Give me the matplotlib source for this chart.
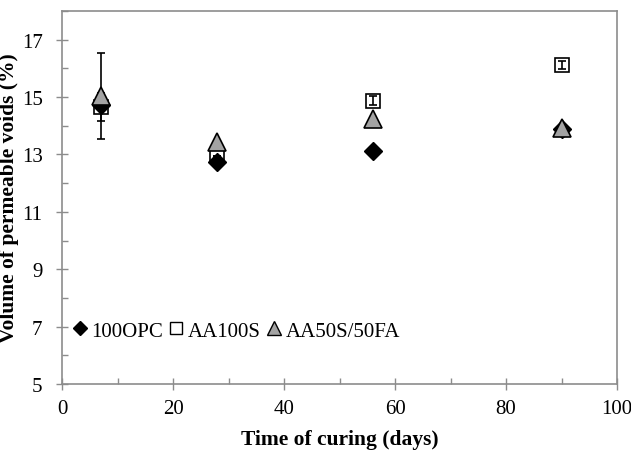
import matplotlib.pyplot as plt
from matplotlib.lines import Line2D
from matplotlib.ticker import MultipleLocator

plt.rcParams['font.family'] = ['Liberation Serif', 'DejaVu Serif']

days = [7, 28, 56, 90]
opc = [14.72, 12.75, 13.12, 13.88]
aa100s = [14.65, 12.95, 14.88, 16.12]
aa100s_err = [0.5, 0.0, 0.15, 0.15]
aa50 = [15.05, 13.45, 14.25, 13.92]
aa50_err = [1.5, 0.0, 0.0, 0.0]

fig = plt.figure(figsize=(6.31, 4.60), dpi=100)
ax = fig.add_axes([62 / 631, 75 / 460, 555 / 631, 373 / 460])

sq = dict(marker='s', ls='none', ms=10.5, mfc='white', mec='black', mew=1.2)
dia = dict(marker='D', ls='none', ms=9.5, mfc='black', mec='black', mew=1.0)
tri = dict(marker='^', ls='none', ms=12.5, mfc='#a3a3a3', mec='black', mew=1.2)

# square error bars sit on top of the squares, triangle bars behind the triangles
ax.plot(days, aa100s, zorder=3, **sq)
ax.errorbar(days, aa100s, yerr=aa100s_err, fmt='none', ecolor='black',
            elinewidth=1.2, capsize=3.2, capthick=1.2, zorder=3.5)
ax.plot(days, opc, zorder=4, **dia)
ax.errorbar(days, aa50, yerr=aa50_err, fmt='none', ecolor='black',
            elinewidth=1.2, capsize=3.2, capthick=1.2, zorder=2)
ax.plot(days, aa50, zorder=5, **tri)

ax.set_xlim(0, 100)
ax.set_ylim(5, 18)
ax.xaxis.set_major_locator(MultipleLocator(20))
ax.xaxis.set_minor_locator(MultipleLocator(10))
ax.set_yticks([5, 7, 9, 11, 13, 15, 17])
ax.yaxis.set_minor_locator(MultipleLocator(1))

for s in ax.spines.values():
    s.set_color('#8c8c8c')
    s.set_linewidth(1.2)
ax.tick_params(which='major', direction='inout', length=8, width=1.0, color='#8c8c8c',
               labelsize=15)
ax.tick_params(which='minor', direction='in', length=4, width=1.0, color='#8c8c8c')
ax.tick_params(axis='x', which='major', pad=7)
ax.tick_params(axis='y', which='major', pad=10)

ax.set_xlabel('Time of curing (days)', fontsize=15.5, fontweight='bold', labelpad=8)
ax.set_ylabel('Volume of permeable voids (%)', fontsize=15.5, fontweight='bold', labelpad=2)

handles = [
    Line2D([], [], marker='D', ls='none', ms=7, mfc='black', mec='black'),
    Line2D([], [], marker='s', ls='none', ms=8.5, mfc='white', mec='black', mew=1.0),
    Line2D([], [], marker='^', ls='none', ms=9.5, mfc='#a3a3a3', mec='black', mew=1.0),
]
ax.legend(handles, ['100OPC', 'AA100S', 'AA50S/50FA'], loc='center left',
          bbox_to_anchor=(0.0, 1.85 / 13), ncol=3, frameon=False, fontsize=15,
          handlelength=0.7, handletextpad=0.2, columnspacing=0.3, borderaxespad=0.1)

fig.savefig('out.png', dpi=100)
